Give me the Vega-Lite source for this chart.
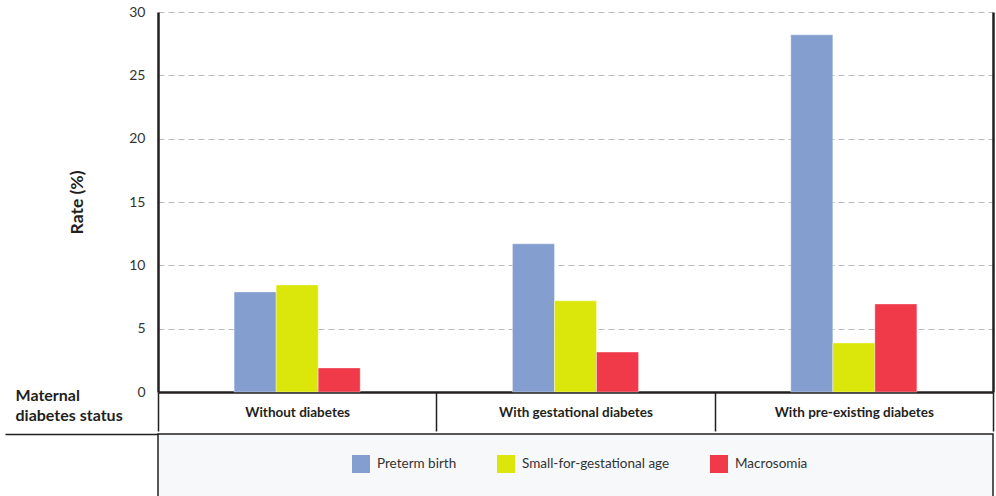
{
  "$schema": "https://vega.github.io/schema/vega-lite/v6.json",
  "padding": {"left": 3, "top": 5, "right": 3, "bottom": 2},
  "background": "white",
  "spacing": 0,
  "config": {"font": "Lato", "view": {"stroke": null}},
  "datasets": {
    "rates": [
      {"status": "Without diabetes", "measure": "Preterm birth", "value": 7.9},
      {"status": "Without diabetes", "measure": "Small-for-gestational age", "value": 8.45},
      {"status": "Without diabetes", "measure": "Macrosomia", "value": 1.9},
      {"status": "With gestational diabetes", "measure": "Preterm birth", "value": 11.7},
      {"status": "With gestational diabetes", "measure": "Small-for-gestational age", "value": 7.2},
      {"status": "With gestational diabetes", "measure": "Macrosomia", "value": 3.15},
      {"status": "With pre-existing diabetes", "measure": "Preterm birth", "value": 28.2},
      {"status": "With pre-existing diabetes", "measure": "Small-for-gestational age", "value": 3.87},
      {"status": "With pre-existing diabetes", "measure": "Macrosomia", "value": 6.95}
    ]
  },
  "resolve": {"legend": {"color": "independent"}},
  "vconcat": [
    {
      "width": 835,
      "height": 380,
      "data": {"name": "rates"},
      "layer": [
        {
          "mark": {"type": "bar", "stroke": "white", "strokeOpacity": 0.35, "strokeWidth": 1},
          "encoding": {
            "x": {
              "field": "status", "type": "nominal",
              "sort": ["Without diabetes", "With gestational diabetes", "With pre-existing diabetes"],
              "scale": {"paddingInner": 0.547, "paddingOuter": 0.2735},
              "axis": null
            },
            "xOffset": {
              "field": "measure", "type": "nominal",
              "sort": ["Preterm birth", "Small-for-gestational age", "Macrosomia"],
              "scale": {"paddingInner": 0, "paddingOuter": 0}
            },
            "y": {
              "field": "value", "type": "quantitative",
              "scale": {"domain": [0, 30]},
              "axis": {
                "values": [0, 5, 10, 15, 20, 25, 30],
                "title": "Rate (%)", "titleFontSize": 17.5, "titleFontWeight": "bold",
                "titleColor": "#231f20", "titlePadding": 42,
                "labelFontSize": 14, "labelColor": "#333333", "labelPadding": 13,
                "ticks": false,
                "domainColor": "#231f20", "domainWidth": 2.5,
                "grid": true, "gridColor": "#bbbbbb", "gridDash": [6, 4], "gridWidth": 1
              }
            },
            "color": {
              "field": "measure", "type": "nominal",
              "scale": {
                "domain": ["Preterm birth", "Small-for-gestational age", "Macrosomia"],
                "range": ["#849fcf", "#dbe70a", "#f03a4a"]
              },
              "legend": null
            }
          }
        },
        {
          "mark": {"type": "rule", "opacity": 0},
          "encoding": {
            "x": {
              "field": "status", "type": "nominal",
              "sort": ["Without diabetes", "With gestational diabetes", "With pre-existing diabetes"],
              "scale": {"paddingInner": 0, "paddingOuter": 0},
              "axis": {
                "orient": "bottom",
                "title": ["Maternal", "diabetes status"],
                "titleX": -143, "titleY": -5,
                "titleAlign": "left", "titleBaseline": "top", "titleAngle": 0,
                "titleFontSize": 16, "titleFontWeight": "bold", "titleColor": "#231f20",
                "titleLineHeight": 20,
                "labelAngle": 0, "labelFontSize": 13.5, "labelFontWeight": "bold",
                "labelColor": "#231f20", "labelBaseline": "middle", "labelPadding": -19,
                "ticks": true, "tickBand": "extent", "tickSize": 39,
                "tickColor": "#231f20", "tickWidth": 1.5,
                "domainColor": "#231f20", "domainWidth": 2.5, "grid": false
              }
            },
            "y": {
              "field": "value", "type": "quantitative",
              "axis": {
                "orient": "right", "labels": false, "ticks": false, "grid": false,
                "title": null, "domainColor": "#231f20", "domainWidth": 2.5
              }
            }
          }
        }
      ],
      "resolve": {"scale": {"x": "independent"}, "axis": {"x": "independent", "y": "independent"}}
    },
    {
      "width": 835,
      "height": 63,
      "view": {"fill": "#f7f8fa", "stroke": "#231f20", "strokeWidth": 1.5},
      "data": {"name": "rates"},
      "mark": {"type": "square", "opacity": 0},
      "encoding": {
        "y": {
          "datum": 0.5, "type": "quantitative",
          "scale": {"domain": [0, 1]},
          "axis": {
            "values": [1], "ticks": true, "tickSize": 153, "tickColor": "#231f20",
            "tickWidth": 1.5, "labels": false, "domain": false, "grid": false, "title": null
          }
        },
        "color": {
          "field": "measure", "type": "nominal",
          "scale": {
            "domain": ["Preterm birth", "Small-for-gestational age", "Macrosomia"],
            "range": ["#849fcf", "#dbe70a", "#f03a4a"]
          },
          "legend": {
            "title": null, "orient": "none", "legendX": 194, "legendY": 21,
            "direction": "horizontal", "symbolType": "square", "symbolSize": 324,
            "symbolOpacity": 1, "symbolStrokeWidth": 0,
            "labelFontSize": 13.5, "labelColor": "#333333", "labelOffset": 7,
            "columnPadding": 40, "padding": 0
          }
        }
      }
    }
  ]
}
